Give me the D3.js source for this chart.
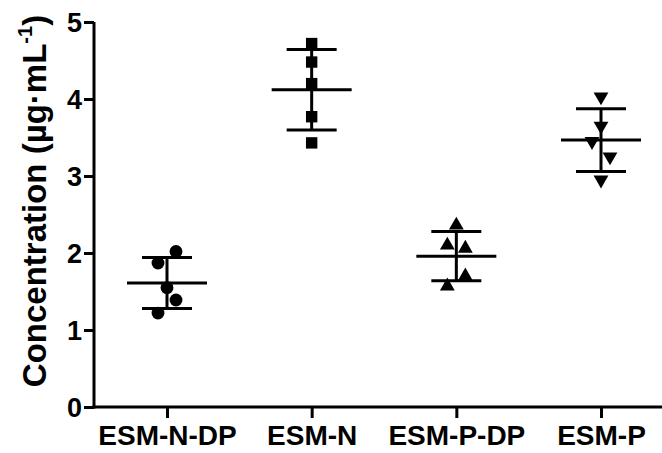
<!DOCTYPE html>
<html>
<head>
<meta charset="utf-8">
<script src="https://cdn.jsdelivr.net/npm/d3@7"></script>
<style>
  body { margin: 0; background: #fff; }
  svg text { font-family: "Liberation Sans", Arial, sans-serif; font-weight: bold; fill: #000; }
</style>
</head>
<body>
<div id="chart"></div>
<script>
// categories and the points of each group
const groups = ["ESM-N-DP", "ESM-N", "ESM-P-DP", "ESM-P"];
const esmNdp = [2.02, 1.87, 1.55, 1.39, 1.22];
const esmN   = [4.72, 4.48, 4.20, 3.77, 3.43];
const esmPdp = [2.36, 2.10, 2.06, 1.70, 1.57];
const esmP   = [4.03, 3.65, 3.45, 3.25, 2.95];
// lane of each point when they are spread sideways (-1 left, 0 centre, 1 right)
const lanes = [[1, -1, 0, 1, -1], [0, 0, 0, 0, 0], [0, -1, 1, 1, -1], [0, 0, -1, 1, 0]];
const yTicks = [0, 1, 2, 3, 4, 5];

const series = [esmNdp, esmN, esmPdp, esmP];
const shapes = [d3.symbolCircle, d3.symbolSquare, d3.symbolTriangle, d3.symbolTriangle];
const sizes = [130, 130, 95, 95];

let width = 662, height = 453;
let svg = d3.select("#chart").append("svg")
    .attr("width", width)
    .attr("height", height);

let x = d3.scalePoint().domain(groups).range([167, 601]);
let y = d3.scaleLinear().domain([0, 5]).range([407, 22]);

// y axis
let yAxis = svg.append("g")
    .attr("transform", "translate(94,0)")
    .call(d3.axisLeft(y).tickValues(yTicks).tickFormat(d3.format("d"))
        .tickSize(10).tickSizeOuter(0).tickPadding(2));
yAxis.select(".domain").attr("stroke-width", 3).attr("d", "M0,22V408.5");
yAxis.selectAll(".tick line").attr("stroke-width", 3);
yAxis.selectAll(".tick text")
    .style("font-size", "27px")
    .attr("dy", "0.36em");

// x axis
let xAxis = svg.append("g")
    .attr("transform", "translate(0,407)")
    .call(d3.axisBottom(x).tickSize(11).tickSizeOuter(0));
xAxis.select(".domain").attr("stroke-width", 3).attr("d", "M92.5,0H662");
xAxis.selectAll(".tick line").attr("stroke-width", 3);
xAxis.selectAll(".tick text")
    .style("font-size", "28px")
    .attr("y", 38).attr("dy", null);

// y title
let title = svg.append("text")
    .attr("transform", "translate(46,201) rotate(-90)")
    .attr("text-anchor", "middle")
    .style("font-size", "33px");
title.append("tspan").text("Concentration (\u00b5g\u00b7mL");
title.append("tspan").text("-1").style("font-size", "20px").attr("dy", "-14");
title.append("tspan").text(")").attr("dy", "14");

// mean and SD bars, then the points
series.forEach((vals, i) => {
    let cx = x(groups[i]);
    let m = d3.mean(vals);
    let sd = d3.deviation(vals);
    let g = svg.append("g");

    g.append("line")
        .attr("x1", cx).attr("x2", cx)
        .attr("y1", y(m + sd)).attr("y2", y(m - sd))
        .attr("stroke", "#000").attr("stroke-width", 3);
    [m + sd, m - sd].forEach(v => {
        g.append("line")
            .attr("x1", cx - 25).attr("x2", cx + 25)
            .attr("y1", y(v)).attr("y2", y(v))
            .attr("stroke", "#000").attr("stroke-width", 3);
    });
    g.append("line")
        .attr("x1", cx - 40).attr("x2", cx + 40)
        .attr("y1", y(m)).attr("y2", y(m))
        .attr("stroke", "#000").attr("stroke-width", 3);

    g.selectAll("path.pt")
        .data(vals)
        .enter()
        .append("path")
        .attr("class", "pt")
        .attr("d", d3.symbol().type(shapes[i]).size(sizes[i]))
        .attr("transform", (d, j) => {
            let px = cx + lanes[i][j] * 9;
            let rot = i == 3 ? " rotate(180)" : "";
            return `translate(${px},${y(d)})${rot}`;
        })
        .attr("fill", "#000");
});
</script>
</body>
</html>
